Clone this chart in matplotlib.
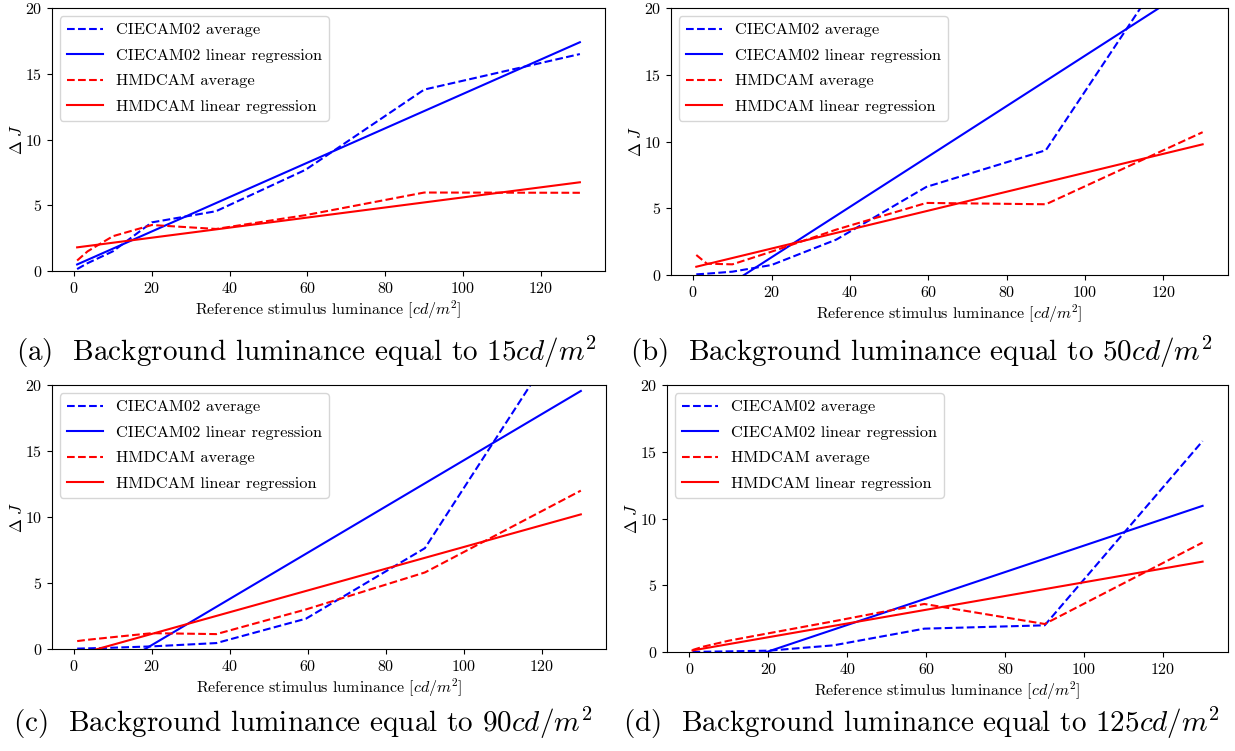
import numpy as np
import matplotlib
matplotlib.use('Agg')
import matplotlib.pyplot as plt

plt.rcParams['font.family'] = 'serif'
plt.rcParams['font.serif'] = ['cmr10']
plt.rcParams['mathtext.fontset'] = 'cm'
plt.rcParams['axes.formatter.use_mathtext'] = True
plt.rcParams['axes.unicode_minus'] = False

# reference stimulus luminance levels
lum = [0.8, 3.5, 10, 20, 36.5, 59.5, 90, 130]
lum_ends = [0.8, 130]

# panel (a) background 15 cd/m2
ciecam_avg_a = [0.15, 0.6, 1.5, 3.7, 4.55, 7.7, 13.8, 16.5]
hmdcam_avg_a = [0.8, 1.5, 2.65, 3.5, 3.2, 4.25, 5.97, 5.95]
ciecam_reg_a = [0.5, 17.4]
hmdcam_reg_a = [1.8, 6.75]

# panel (b) background 50 cd/m2
ciecam_avg_b = [0.05, 0.1, 0.25, 0.75, 2.65, 6.6, 9.35, 27.0]
hmdcam_avg_b = [1.5, 0.85, 0.8, 1.75, 3.4, 5.4, 5.3, 10.7]
ciecam_reg_b = [-2.3, 22.1]
hmdcam_reg_b = [0.62, 9.79]

# panel (c) background 90 cd/m2
ciecam_avg_c = [0.03, 0.05, 0.1, 0.2, 0.45, 2.3, 7.64, 25.9]
hmdcam_avg_c = [0.6, 0.7, 0.9, 1.2, 1.13, 3.0, 5.8, 12.0]
ciecam_reg_c = [-3.05, 19.55]
hmdcam_reg_c = [-0.43, 10.2]

# panel (d) background 125 cd/m2
ciecam_avg_d = [0.0, 0.02, 0.05, 0.1, 0.5, 1.75, 2.0, 15.8]
hmdcam_avg_d = [0.15, 0.4, 0.85, 1.4, 2.3, 3.6, 2.1, 8.2]
ciecam_reg_d = [-1.86, 10.95]
hmdcam_reg_d = [0.12, 6.77]

captions = [r"(a)  Background luminance equal to 15$cd/m^2$",
            r"(b)  Background luminance equal to 50$cd/m^2$",
            r"(c)  Background luminance equal to 90$cd/m^2$",
            r"(d)  Background luminance equal to 125$cd/m^2$"]

panels = [(ciecam_avg_a, ciecam_reg_a, hmdcam_avg_a, hmdcam_reg_a),
          (ciecam_avg_b, ciecam_reg_b, hmdcam_avg_b, hmdcam_reg_b),
          (ciecam_avg_c, ciecam_reg_c, hmdcam_avg_c, hmdcam_reg_c),
          (ciecam_avg_d, ciecam_reg_d, hmdcam_avg_d, hmdcam_reg_d)]

# axes rectangles [left, bottom, width, height] in figure fraction
rects = [[0.0421, 0.6391, 0.4478, 0.3502],
         [0.5433, 0.6338, 0.4510, 0.3555],
         [0.0421, 0.1358, 0.4486, 0.3515],
         [0.5401, 0.1318, 0.4543, 0.3555]]
cap_pos = [(0.248, 0.531), (0.746, 0.531), (0.245, 0.037), (0.746, 0.037)]

fig = plt.figure(figsize=(12.35, 7.51), dpi=100)

for n in range(4):
    ca, cr, ha, hr = panels[n]
    ax = fig.add_axes(rects[n])
    ax.plot(lum, ca, color='blue', linestyle='--', label='CIECAM02 average')
    ax.plot(lum_ends, cr, color='blue', linestyle='-', label='CIECAM02 linear regression')
    ax.plot(lum, ha, color='red', linestyle='--', label='HMDCAM average')
    ax.plot(lum_ends, hr, color='red', linestyle='-', label='HMDCAM linear regression')
    ax.set_ylim(0, 20)
    ax.set_yticks([0, 5, 10, 15, 20])
    ax.set_xticks([0, 20, 40, 60, 80, 100, 120])
    ax.tick_params(labelsize=11.5)
    ax.set_xlabel(r"Reference stimulus luminance [$cd/m^2$]", fontsize=11.5, labelpad=2)
    ax.set_ylabel(r"$\Delta\ J$", fontsize=12, labelpad=0)
    ax.legend(loc='upper left', fontsize=11.8, labelspacing=0.68, handlelength=2.2)
    fig.text(cap_pos[n][0], cap_pos[n][1], captions[n], fontsize=21,
             ha='center', va='center')

plt.savefig('out.png', dpi=100)
